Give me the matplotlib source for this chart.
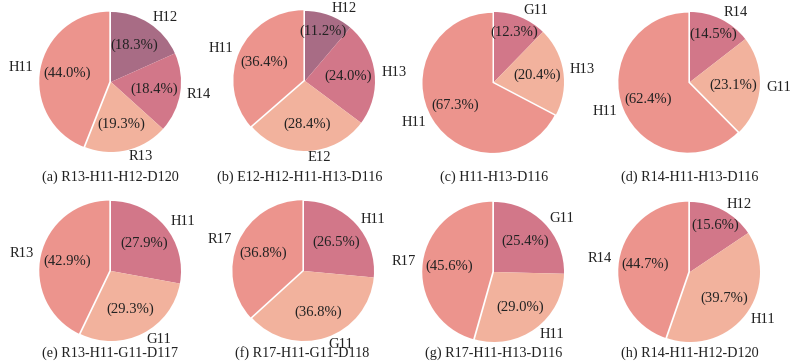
import matplotlib
matplotlib.use("Agg")
import matplotlib.pyplot as plt

plt.rcParams['font.family'] = ['Liberation Serif', 'DejaVu Serif']

DARK = '#A86C85'
ROSE = '#D27789'
PEACH = '#F2B29D'
SALMON = '#EC948D'

captions = [
    "(a) R13-H11-H12-D120",
    "(b) E12-H12-H11-H13-D116",
    "(c) H11-H13-D116",
    "(d) R14-H11-H13-D116",
    "(e) R13-H11-G11-D117",
    "(f) R17-H11-G11-D118",
    "(g) R17-H11-H13-D116",
    "(h) R14-H11-H12-D120",
]

labels_a = ["H12", "R14", "R13", "H11"]
values_a = [18.3, 18.4, 19.3, 44.0]
labels_b = ["H12", "H13", "E12", "H11"]
values_b = [11.2, 24.0, 28.4, 36.4]
labels_c = ["G11", "H13", "H11"]
values_c = [12.3, 20.4, 67.3]
labels_d = ["R14", "G11", "H11"]
values_d = [14.5, 23.1, 62.4]
labels_e = ["H11", "G11", "R13"]
values_e = [27.9, 29.3, 42.9]
labels_f = ["H11", "G11", "R17"]
values_f = [26.5, 36.8, 36.8]
labels_g = ["G11", "H11", "R17"]
values_g = [25.4, 29.0, 45.6]
labels_h = ["H12", "H11", "R14"]
values_h = [15.6, 39.7, 44.7]

pies = [
    (labels_a, values_a), (labels_b, values_b), (labels_c, values_c), (labels_d, values_d),
    (labels_e, values_e), (labels_f, values_f), (labels_g, values_g), (labels_h, values_h),
]

W, H = 800, 363
fig = plt.figure(figsize=(W / 100, H / 100), dpi=100)

centers = [(111, 82), (305, 81), (494, 82), (690, 82),
           (111, 271), (304, 271), (494, 272), (690, 272)]
cap_x = [110, 300, 494, 690, 110, 302, 494, 690]
cap_y = [177, 177, 177, 177, 353, 353, 353, 353]
R = 70.0
S = 220.0
FS = 10.5

for i, ((labs, vals), (cx, cy)) in enumerate(zip(pies, centers)):
    ax = fig.add_axes([(cx - S / 2) / W, 1 - (cy + S / 2) / H, S / W, S / H])
    if len(vals) == 4:
        cols = [DARK, ROSE, PEACH, SALMON]
    else:
        cols = [ROSE, PEACH, SALMON]
    explode = [0] * (len(vals) - 1) + [0.025]
    wedges, texts, autotexts = ax.pie(
        vals, labels=labs, colors=cols, startangle=90, counterclock=False,
        explode=explode, autopct='%1.1f', pctdistance=0.62, labeldistance=1.1,
        textprops={'fontsize': FS, 'color': '#222222'})
    total = sum(vals)
    ang = 90.0
    for t, v, ex in zip(autotexts, vals, explode):
        t.set_text(f"({v:.1f}%)")
        if v < 16:
            import math
            mid = math.radians(ang - v / total * 180.0)
            d = 0.76 + ex
            t.set_position((d * math.cos(mid), d * math.sin(mid)))
        ang -= v / total * 360.0
    lim = (S / 2) / R
    ax.set_xlim(-lim, lim)
    ax.set_ylim(-lim, lim)
    ax.set_aspect('equal')
    ax.axis('off')
    fig.text(cap_x[i] / W, 1 - cap_y[i] / H, captions[i], ha='center', va='center',
             fontsize=10.2, color='#222222')

fig.savefig("out.png", dpi=100)
